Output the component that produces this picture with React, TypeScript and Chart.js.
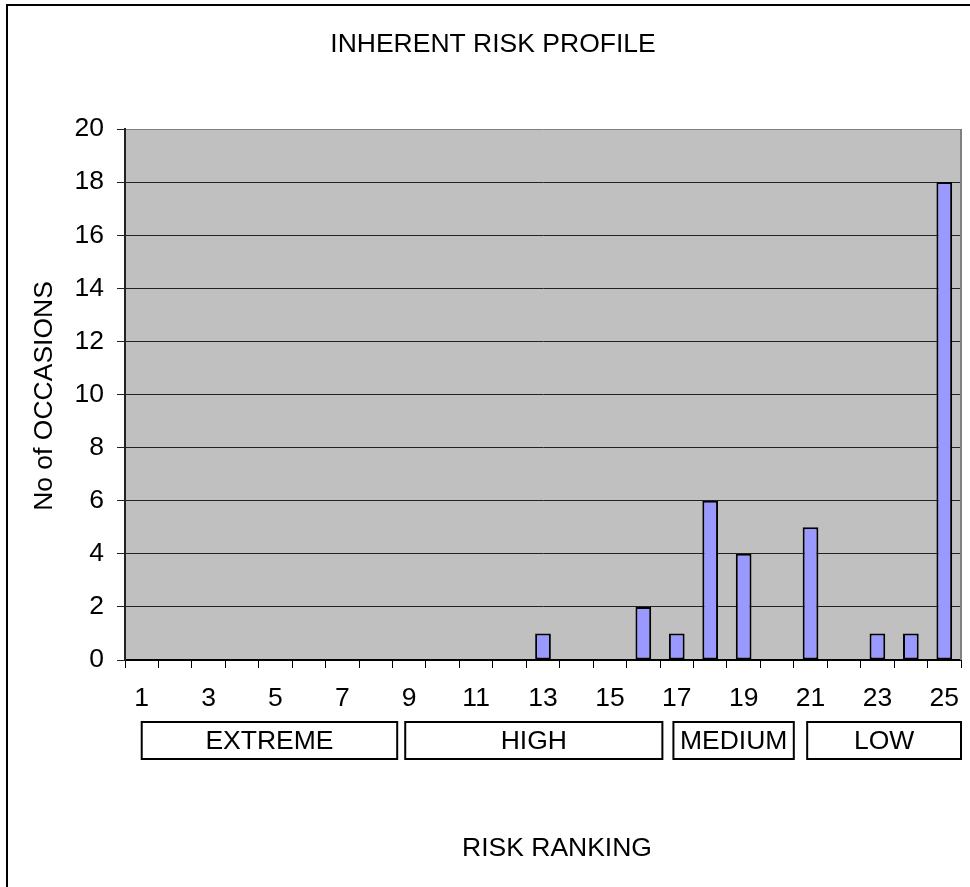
import React, { useEffect, useRef } from "react";
import { Chart, registerables } from "chart.js";

Chart.register(...registerables);

const categories = ["1", "2", "3", "4", "5", "6", "7", "8", "9", "10", "11", "12", "13", "14", "15", "16", "17", "18", "19", "20", "21", "22", "23", "24", "25"];
const occasions = [0, 0, 0, 0, 0, 0, 0, 0, 0, 0, 0, 0, 1, 0, 0, 2, 1, 6, 4, 0, 5, 0, 1, 1, 18];
const yMin = 0;
const yMax = 20;
const yStep = 2;
const titleText = "INHERENT RISK PROFILE";
const yTitleText = "No of OCCASIONS";
const xTitleText = "RISK RANKING";
// band boxes below the axis, in category units (0 = left edge of category 1)
const bandLabels = ["EXTREME", "HIGH", "MEDIUM", "LOW"];
const bandStarts = [0.5, 8.38, 16.4, 20.4];
const bandEnds = [8.14, 16.07, 20.0, 25.0];

const FONT = "'Liberation Sans', Arial, sans-serif";
const FS = 26.5;

const decorPlugin = {
  id: "decor",
  beforeDraw(chart: any) {
    const { ctx, chartArea } = chart;
    ctx.save();
    ctx.fillStyle = "#ffffff";
    ctx.fillRect(0, 0, chart.width, chart.height);
    ctx.fillStyle = "#c0c0c0";
    ctx.fillRect(chartArea.left, chartArea.top, chartArea.right - chartArea.left, chartArea.bottom - chartArea.top);
    ctx.restore();
  },
  afterDraw(chart: any) {
    const { ctx, chartArea } = chart;
    const xs = chart.scales.x;
    ctx.save();
    // plot area right border
    ctx.strokeStyle = "#808080";
    ctx.lineWidth = 2;
    ctx.beginPath();
    ctx.moveTo(chartArea.right, chartArea.top);
    ctx.lineTo(chartArea.right, chartArea.bottom);
    ctx.stroke();

    // outer chart border (left & top visible)
    ctx.strokeStyle = "#000";
    ctx.lineWidth = 2;
    ctx.beginPath();
    ctx.moveTo(7, chart.height + 2);
    ctx.lineTo(7, 5);
    ctx.lineTo(chart.width + 2, 5);
    ctx.stroke();

    ctx.fillStyle = "#000";
    ctx.font = `${FS}px ${FONT}`;
    ctx.textAlign = "center";
    ctx.textBaseline = "middle";
    ctx.fillText(titleText, 493, 45);
    ctx.fillText(xTitleText, 557, 849);

    ctx.save();
    ctx.translate(45, 396);
    ctx.rotate(-Math.PI / 2);
    ctx.fillText(yTitleText, 0, 0);
    ctx.restore();

    // bands
    const catW = (xs.right - xs.left) / categories.length;
    const top = 722;
    const h = 37;
    for (let i = 0; i < bandLabels.length; i++) {
      const l = xs.left + bandStarts[i] * catW;
      const r = xs.left + bandEnds[i] * catW;
      ctx.fillStyle = "#fff";
      ctx.fillRect(l, top, r - l, h);
      ctx.strokeStyle = "#000";
      ctx.lineWidth = 2;
      ctx.strokeRect(l, top, r - l, h);
      ctx.fillStyle = "#000";
      ctx.fillText(bandLabels[i], (l + r) / 2, top + h / 2 + 1);
    }
    ctx.restore();
  },
};

export default function App() {
  const ref = useRef<HTMLCanvasElement | null>(null);
  useEffect(() => {
    if (!ref.current) return;
    const chart = new Chart(ref.current, {
      type: "bar",
      data: {
        labels: categories,
        datasets: [
          {
            data: occasions,
            backgroundColor: "#9999ff",
            borderColor: "#000",
            borderWidth: 2,
            borderSkipped: false,
            barPercentage: 0.47,
            categoryPercentage: 1,
          },
        ],
      },
      options: {
        responsive: false,
        animation: false,
        layout: { padding: { left: 0, top: 129, right: 9, bottom: 0 } },
        plugins: {
          legend: { display: false },
          tooltip: { enabled: false },
          title: { display: false },
        },
        scales: {
          x: {
            type: "category",
            offset: true,
            grid: {
              offset: true,
              drawOnChartArea: false,
              drawTicks: true,
              tickLength: 8,
              color: "#000",
              lineWidth: 1,
            },
            border: { color: "#000", width: 2 },
            ticks: {
              autoSkip: false,
              maxRotation: 0,
              minRotation: 0,
              padding: 15,
              color: "#000",
              font: { family: FONT, size: FS },
              callback: (_v: any, i: number) => (i % 2 === 0 ? categories[i] : ""),
            },
            afterFit: (s: any) => {
              s.height = 887 - 660;
              s.paddingLeft = 0;
              s.paddingRight = 0;
            },
          },
          y: {
            min: yMin,
            max: yMax,
            grid: {
              color: (c: any) => (c.tick && c.tick.value === yMax ? "#808080" : "#222"),
              lineWidth: 1,
              drawTicks: true,
              tickLength: 8,
              tickColor: "#222",
            },
            border: { color: "#222", width: 2 },
            ticks: {
              stepSize: yStep,
              padding: 13,
              color: "#000",
              font: { family: FONT, size: FS },
            },
            afterFit: (s: any) => {
              s.width = 125;
              s.paddingTop = 0;
              s.paddingBottom = 0;
            },
          },
        },
      },
      plugins: [decorPlugin],
    } as any);
    return () => chart.destroy();
  }, []);
  return (
    <div style={{ position: "absolute", left: 0, top: 0, width: 970, height: 887 }}>
      <canvas ref={ref} width={970} height={887} style={{ display: "block" }} />
    </div>
  );
}
